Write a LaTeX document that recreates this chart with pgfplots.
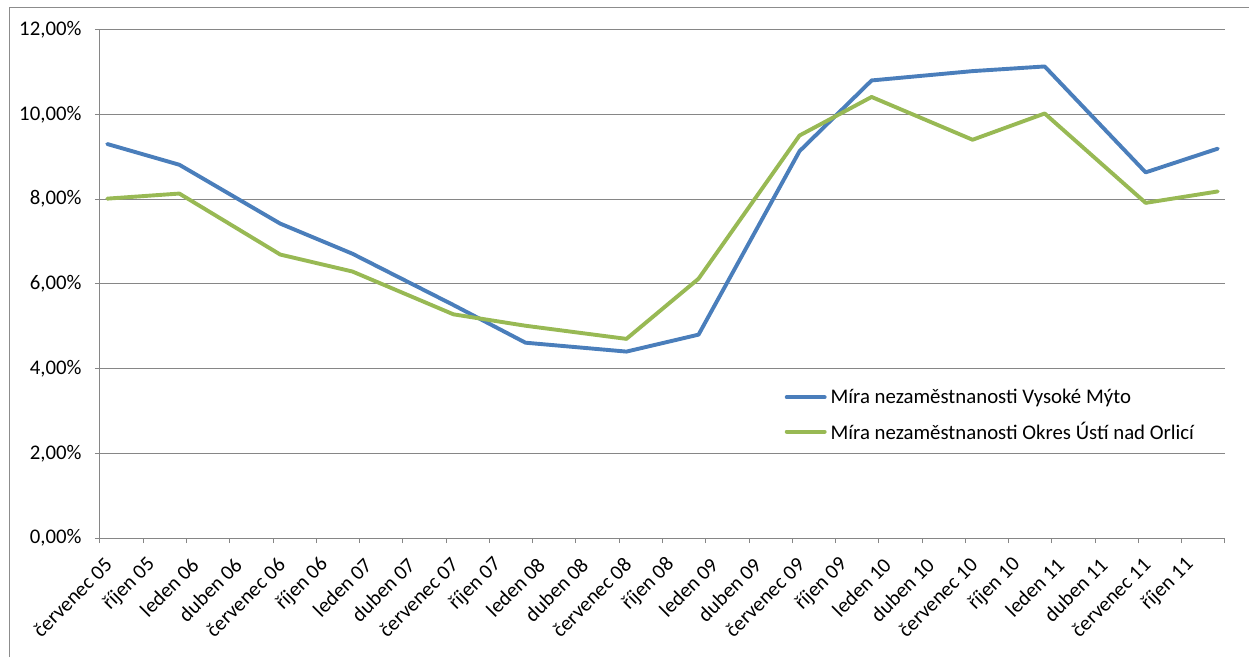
\documentclass[border=0pt]{standalone}
\usepackage{fontspec}
\setmainfont{Carlito}
\usepackage{pgfplots}
\pgfplotsset{compat=1.18}
\definecolor{cblue}{RGB}{74,126,187}
\definecolor{cgreen}{RGB}{152,185,84}
\definecolor{gridgray}{RGB}{134,134,134}
\definecolor{framegray}{RGB}{140,140,140}
\pgfplotstableread{
x blue green
0.5 9.30 8.01
5.5 8.81 8.13
12.5 7.42 6.69
17.5 6.71 6.29
24.5 5.50 5.28
29.5 4.61 5.01
36.5 4.40 4.70
41.5 4.80 6.12
48.5 9.13 9.50
53.5 10.80 10.41
60.5 11.02 9.40
65.5 11.13 10.02
72.5 8.63 7.91
77.5 9.19 8.18
}\datatable
\begin{document}
\begin{tikzpicture}
\useasboundingbox (0pt,0pt) rectangle (1249pt,657pt);
\draw[framegray, line width=1pt] (9.5pt,0pt) -- (9.5pt,649pt) -- (1249pt,649pt);
\begin{axis}[
  at={(100pt,119pt)}, anchor=south west,
  scale only axis, width=1125pt, height=508.4pt,
  xmin=0, xmax=78, ymin=0, ymax=12,
  axis x line*=bottom, axis y line*=left,
  axis line style={-, draw=gridgray, line width=1pt},
  xtick={0,3,...,78},
  xticklabels={červenec 05, říjen 05, leden 06, duben 06, červenec 06, říjen 06, leden 07, duben 07, červenec 07, říjen 07, leden 08, duben 08, červenec 08, říjen 08, leden 09, duben 09, červenec 09, říjen 09, leden 10, duben 10, červenec 10, říjen 10, leden 11, duben 11, červenec 11, říjen 11, {}},
  ytick={0,2,...,12},
  yticklabel={\pgfmathprintnumber[fixed,fixed zerofill,precision=2,use comma]{\tick}\%},
  /pgf/number format/assume math mode=true,
  ymajorgrids,
  major grid style={draw=gridgray, line width=1pt},
  tick align=outside, major tick length=5pt,
  tick style={draw=gridgray, line width=1pt},
  xticklabel style={xshift=11pt, yshift=-16pt, rotate=45, anchor=east, font=\fontsize{20.8}{24}\selectfont},
  yticklabel style={xshift=-10pt, font=\fontsize{20.8}{24}\selectfont},
  legend style={at={(0.6085,0.297)}, anchor=north west, draw=none, fill=none,
    font=\fontsize{20.8}{24}\selectfont, row sep=13pt, inner sep=0pt},
  legend cell align=left,
  legend image code/.code={\draw[#1] (0pt,0pt) -- (38pt,0pt);},
  line join=round,
]
\addplot[cblue, line width=3.9pt, line cap=round] table[x=x, y=blue] {\datatable};
\addlegendentry{\hspace{2pt}Míra nezaměstnanosti Vysoké Mýto}
\addplot[cgreen, line width=3.9pt, line cap=round] table[x=x, y=green] {\datatable};
\addlegendentry{\hspace{2pt}Míra nezaměstnanosti Okres Ústí nad Orlicí}
\end{axis}
\end{tikzpicture}
\end{document}
